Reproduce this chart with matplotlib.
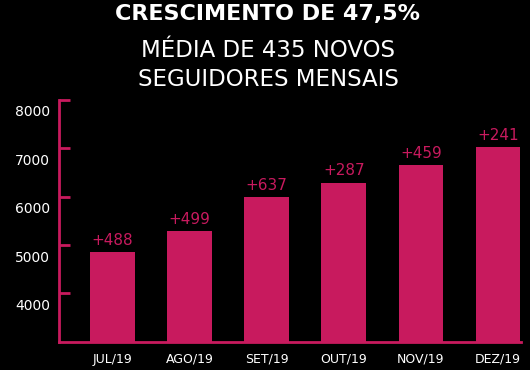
import matplotlib
matplotlib.use("Agg")
import matplotlib.pyplot as plt
from matplotlib.transforms import ScaledTranslation

# dados
meses = ["JUL/19", "AGO/19", "SET/19", "OUT/19", "NOV/19", "DEZ/19"]
seguidores = [4850, 5280, 6000, 6290, 6660, 7020]
ganhos = ["+488", "+499", "+637", "+287", "+459", "+241"]
yticks = [4000, 5000, 6000, 7000, 8000]

ROSA = "#C81A5E"
BRANCO = "white"

plt.rcParams["font.family"] = ["DejaVu Sans"]

fig = plt.figure(figsize=(5.3, 3.7), dpi=100, facecolor="black")
ax = fig.add_axes([59 / 530, 1 - 341.7 / 370, (520.7 - 59) / 530, (341.7 - 100) / 370])
ax.set_facecolor("black")

x = list(range(len(meses)))
ax.bar(x, seguidores, width=0.58, color=ROSA, zorder=2)

for xi, v, g in zip(x, seguidores, ganhos):
    ax.annotate(g, (xi, v), xytext=(0, 3), textcoords="offset points",
                ha="center", va="bottom", color=ROSA, fontsize=11)

ax.set_xlim(-0.695, 5.295)
ax.set_ylim(3000, 8000)
ax.set_yticks(yticks)
ax.set_xticks(x)
ax.set_xticklabels(meses)

for s in ["top", "right"]:
    ax.spines[s].set_visible(False)
for s in ["left", "bottom"]:
    ax.spines[s].set_color(ROSA)
    ax.spines[s].set_linewidth(2)

ax.tick_params(axis="y", direction="in", length=8, width=2, color=ROSA,
               labelcolor=BRANCO, labelsize=10, pad=6.5)
ax.tick_params(axis="x", length=0, labelcolor=BRANCO, labelsize=9, pad=8)

# rotulos do eixo y aparecem um pouco abaixo dos ticks
desloc = ScaledTranslation(0, -11 / 100, fig.dpi_scale_trans)
for lab in ax.get_yticklabels():
    lab.set_transform(lab.get_transform() + desloc)

fig.text(0.505, 1 - 20 / 370, "CRESCIMENTO DE 47,5%", ha="center", va="baseline",
         color=BRANCO, fontsize=16, fontweight="bold")
fig.text(0.506, 1 - 57 / 370, "MÉDIA DE 435 NOVOS", ha="center", va="baseline",
         color=BRANCO, fontsize=16.5)
fig.text(0.506, 1 - 86 / 370, "SEGUIDORES MENSAIS", ha="center", va="baseline",
         color=BRANCO, fontsize=16.5)

fig.savefig("out.png", dpi=100, facecolor="black")
